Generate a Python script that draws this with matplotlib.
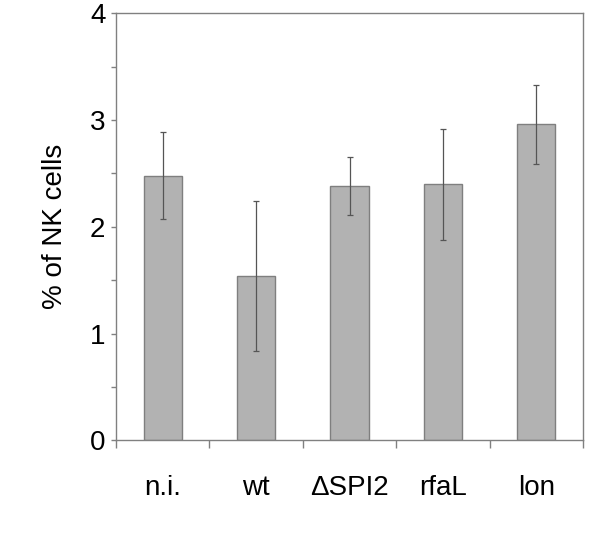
import matplotlib
matplotlib.use("Agg")
import matplotlib.pyplot as plt
import numpy as np

categories = ["n.i.", "wt", "\u0394SPI2", "rfaL", "lon"]
values = [2.48, 1.54, 2.38, 2.40, 2.96]
errors = [0.41, 0.70, 0.27, 0.52, 0.37]
yticks = [0, 1, 2, 3, 4]

plt.rcParams['font.family'] = ['Liberation Sans', 'DejaVu Sans']

fig = plt.figure(figsize=(6, 5.34), dpi=100)
ax = fig.add_axes([0.1933, 0.1755, 0.7784, 0.7995])

x = np.arange(len(categories))
ax.bar(x, values, width=0.41, color='#b2b2b2', edgecolor='#7f7f7f', linewidth=1.0, zorder=2)
ax.errorbar(x, values, yerr=errors, fmt='none', ecolor='#555555', elinewidth=0.9,
            capsize=2.5, capthick=0.9, zorder=3)

ax.set_xlim(-0.5, len(categories) - 0.5)
ax.set_ylim(0, 4)

ax.set_yticks(yticks)
ax.set_yticklabels([str(t) for t in yticks], fontsize=20)
ax.set_yticks(np.arange(0.5, 4, 1.0), minor=True)
ax.tick_params(axis='y', which='both', direction='out', length=3.6, width=1, color='#808080', pad=4)

ax.set_xticks(x)
ax.set_xticklabels(categories, fontsize=20)
ax.tick_params(axis='x', which='major', length=0, pad=25)
ax.set_xticks(np.arange(-0.5, len(categories), 1.0), minor=True)
ax.tick_params(axis='x', which='minor', direction='out', length=5.8, width=1, color='#808080')

for s in ax.spines.values():
    s.set_color('#808080')
    s.set_linewidth(1.0)

ax.set_ylabel("% of NK cells", fontsize=20, labelpad=16)

fig.savefig("out.png", dpi=100)
